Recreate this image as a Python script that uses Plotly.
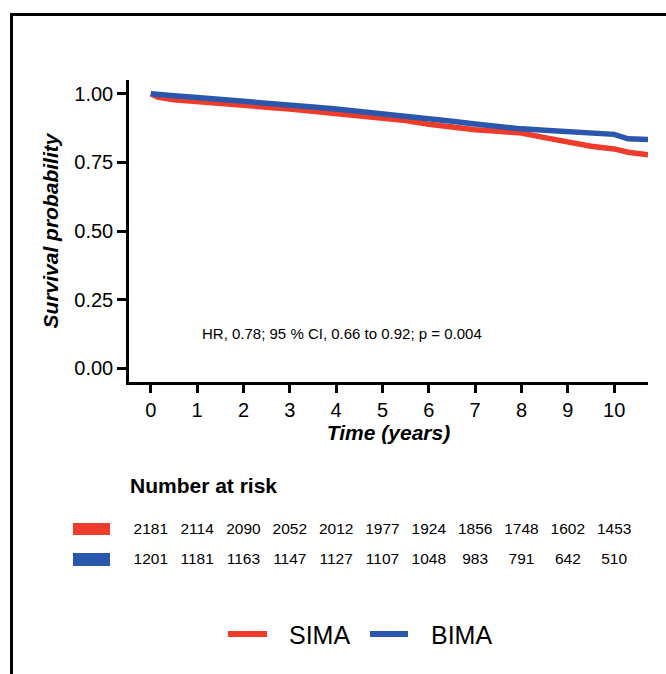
import plotly.graph_objects as go

# ---- data ----
times = [0, 0.15, 0.5, 1, 1.5, 2, 2.5, 3, 3.5, 4, 4.5, 5, 5.5, 6, 6.5, 7, 7.5, 8, 8.5, 9, 9.5, 10, 10.3, 10.73]
sima_surv = [1.0, 0.988, 0.978, 0.970, 0.963, 0.957, 0.951, 0.944, 0.936, 0.928, 0.920, 0.911, 0.902,
             0.889, 0.878, 0.869, 0.863, 0.857, 0.840, 0.822, 0.809, 0.799, 0.787, 0.778]
bima_surv = [1.0, 0.997, 0.993, 0.986, 0.980, 0.973, 0.967, 0.960, 0.952, 0.944, 0.936, 0.928, 0.919,
             0.910, 0.900, 0.890, 0.880, 0.872, 0.867, 0.861, 0.855, 0.852, 0.836, 0.833]

risk_times = [0, 1, 2, 3, 4, 5, 6, 7, 8, 9, 10]
sima_risk = [2181, 2114, 2090, 2052, 2012, 1977, 1924, 1856, 1748, 1602, 1453]
bima_risk = [1201, 1181, 1163, 1147, 1127, 1107, 1048, 983, 791, 642, 510]

groups = ["SIMA", "BIMA"]
y_ticks = [0, 0.25, 0.5, 0.75, 1.0]
x_ticks = [0, 1, 2, 3, 4, 5, 6, 7, 8, 9, 10]
hr_text = "HR, 0.78; 95 % CI, 0.66 to 0.92; p = 0.004"

RED = "#EE3B2A"
BLUE = "#2A56AE"
FONT = "Liberation Sans, Arial, Helvetica, sans-serif"

W, H = 666, 674
def px(x):
    return x / W
def py(y):
    return (H - y) / H

X_RANGE = [-0.47, 10.73]

fig = go.Figure()

fig.add_trace(go.Scatter(x=times, y=sima_surv, mode="lines", name=groups[0],
                         line=dict(color=RED, width=5.5), xaxis="x", yaxis="y"))
fig.add_trace(go.Scatter(x=times, y=bima_surv, mode="lines", name=groups[1],
                         line=dict(color=BLUE, width=5.5), xaxis="x", yaxis="y"))

# risk table as text on its own axes (same x scale as the plot)
fig.add_trace(go.Scatter(x=risk_times, y=[1] * len(risk_times), mode="text",
                         text=[str(v) for v in sima_risk], showlegend=False, hoverinfo="skip",
                         cliponaxis=False,
                         textfont=dict(size=15.5, color="black", family=FONT),
                         xaxis="x2", yaxis="y2"))
fig.add_trace(go.Scatter(x=risk_times, y=[0] * len(risk_times), mode="text",
                         text=[str(v) for v in bima_risk], showlegend=False, hoverinfo="skip",
                         cliponaxis=False,
                         textfont=dict(size=15.5, color="black", family=FONT),
                         xaxis="x2", yaxis="y2"))

x_dom = [px(129), px(648)]
fig.update_layout(
    width=W, height=H,
    margin=dict(l=0, r=0, t=0, b=0),
    paper_bgcolor="white", plot_bgcolor="white",
    font=dict(family=FONT, color="black"),
    xaxis=dict(domain=x_dom, range=X_RANGE, tickvals=x_ticks,
               ticks="outside", ticklen=8, tickwidth=2.5, tickcolor="black",
               showline=True, linewidth=2.5, linecolor="black",
               showgrid=False, zeroline=False,
               tickfont=dict(size=20, color="black"),
               title=dict(text="<b><i>Time (years)</i></b>", font=dict(size=21), standoff=4),
               anchor="y"),
    yaxis=dict(domain=[py(382), py(80)], range=[-0.05, 1.05], tickvals=y_ticks,
               tickformat=".2f",
               ticks="outside", ticklen=9, tickwidth=2.5, tickcolor="black",
               showline=True, linewidth=2.5, linecolor="black",
               showgrid=False, zeroline=False,
               tickfont=dict(size=20, color="black"),
               title=dict(text="<b><i>Survival probability</i></b>", font=dict(size=21), standoff=10),
               anchor="x"),
    xaxis2=dict(domain=x_dom, range=X_RANGE, visible=False, anchor="y2"),
    yaxis2=dict(domain=[py(575), py(515)], range=[-0.5, 1.5], visible=False, anchor="x2"),
    showlegend=False,
)

fig.add_annotation(x=1.06, y=0.127, xref="x", yref="y", text=hr_text, showarrow=False,
                   xanchor="left", yanchor="middle", font=dict(size=15, color="black"))
fig.add_annotation(x=px(128), y=py(486), xref="paper", yref="paper",
                   text="<b>Number at risk</b>", showarrow=False,
                   xanchor="left", yanchor="middle", font=dict(size=21, color="black"))

# outer border (cropped on right/bottom)
fig.add_shape(type="rect", xref="paper", yref="paper",
              x0=px(11.5), x1=1.05, y0=-0.05, y1=py(14.5),
              line=dict(color="black", width=3))
# colour keys of the risk table
fig.add_shape(type="rect", xref="paper", yref="paper", x0=px(73), x1=px(110),
              y0=py(535), y1=py(523), fillcolor=RED, line=dict(width=0))
fig.add_shape(type="rect", xref="paper", yref="paper", x0=px(73), x1=px(110),
              y0=py(566), y1=py(553), fillcolor=BLUE, line=dict(width=0))

# legend at the bottom
for name, col, lx0, lx1, tx in [(groups[0], RED, 228, 267, 287), (groups[1], BLUE, 370, 408, 429)]:
    fig.add_shape(type="line", xref="paper", yref="paper", x0=px(lx0), x1=px(lx1),
                  y0=py(634), y1=py(634), line=dict(color=col, width=6))
    fig.add_annotation(x=px(tx), y=py(635), xref="paper", yref="paper", text=name,
                       showarrow=False, xanchor="left", yanchor="middle",
                       font=dict(size=25, color="black"))

fig.write_html("out.html")
